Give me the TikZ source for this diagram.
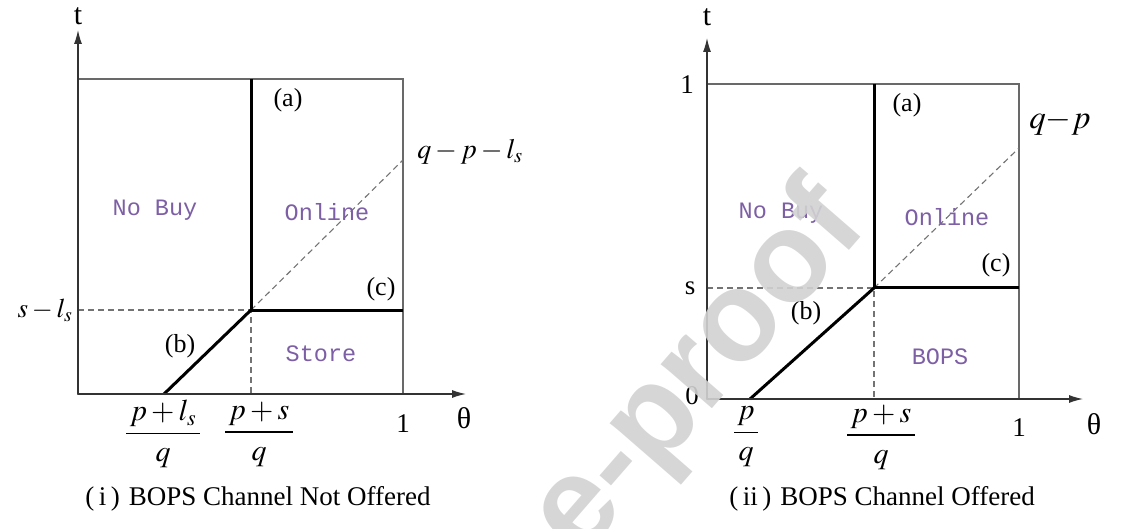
\documentclass[tikz,border=0pt]{standalone}
\usepackage{amsmath}
\usepackage{mathptmx}
\usepackage{fontspec}
\setmainfont{Liberation Serif}
\newfontfamily\regionfont{Liberation Mono}
\newfontfamily\markfont{Liberation Sans}
\usetikzlibrary{arrows.meta,positioning}
\definecolor{regcol}{RGB}{125,95,165}
\definecolor{framecol}{RGB}{105,105,105}
\definecolor{dashcol}{RGB}{115,115,115}
\definecolor{markcol}{RGB}{210,210,210}
\newcommand{\fs}[1]{\fontsize{#1}{#1}\selectfont}

\begin{document}
\begin{tikzpicture}[x=1pt,y=-1pt,>={Latex[length=14pt,width=8pt]},
  axis/.style={draw=black!80,line width=1.2pt,->},
  frame/.style={draw=framecol,line width=1.2pt},
  bound/.style={draw=black,line width=3pt},
  guide/.style={draw=dashcol,line width=1.1pt,dash pattern=on 6pt off 4pt},
  region/.style={regcol,font=\regionfont\fs{23.5}},
  tag/.style={font=\fs{26}},
  tick/.style={font=\fs{27}},
  varlab/.style={font=\fs{30}},
  frac/.style={font=\fs{30}},
  caption/.style={font=\fs{27}}]
  \useasboundingbox (0,0) rectangle (1124,529);
  % ---- (i) BOPS channel not offered
  \coordinate (Lo) at (78,394);   \coordinate (Ltop) at (78,30);
  \coordinate (Lend) at (466,394); \coordinate (Ltr) at (403,79);
  \coordinate (Lk) at (251,310);  \coordinate (Lka) at (251,79);
  \coordinate (Lkc) at (403,310); \coordinate (Lkb) at (164,394);
  \coordinate (Ldq) at (403,160); \coordinate (Lsy) at (78,310);
  \coordinate (Lpx) at (251,394);
  \draw[frame] (Lo) rectangle (Ltr);
  \draw[guide] (Lsy) -- (Lk) -- (Lpx);
  \draw[guide] (Lk) -- (Ldq);
  \draw[bound] (Lka) -- (Lk) -- (Lkc);
  \draw[bound] (Lk) -- (Lkb);
  \draw[axis] (Lo) -- (Ltop);
  \draw[axis] (Lo) -- (Lend);
  \node[varlab] (Lt) at (78,16) {t};
  \node[varlab] (Lth) at (464,418) {θ};
  \node[tick] (Lone) at (403,424) {1};
  \node[tag] (La) at (288,100) {(a)};
  \node[tag] (Lb) at (180,346) {(b)};
  \node[tag] (Lc) at (381,289) {(c)};
  \node[region] (Lnb) at (155,210) {No Buy};
  \node[region] (Lon) at (327,212) {Online};
  \node[region] (Lst) at (321,354) {Store};
  \node[font=\fs{28}] (Lqp) at (470,152) {$q-p-l_s$};
  \node[font=\fs{27},anchor=east] (Lsl) at (76,310) {$s-l_s$};
  \node[frac] (Lf1) at (163,434) {$\dfrac{\,p+l_s\,}{q}$};
  \node[frac] (Lf2) at (259,434) {$\dfrac{\,p+s\,}{q}$};
  \node[caption] (Lcap) at (258,499) {(\,i\,)\,\,BOPS Channel Not Offered};
  % ---- (ii) BOPS channel offered
  \coordinate (Ro) at (707,399);  \coordinate (Rtop) at (707,38);
  \coordinate (Rend) at (1083,399); \coordinate (Rtr) at (1019,84);
  \coordinate (Rk) at (874,288);  \coordinate (Rka) at (874,84);
  \coordinate (Rkc) at (1019,288); \coordinate (Rkb) at (750,399);
  \coordinate (Rdq) at (1019,148); \coordinate (Rsy) at (707,288);
  \coordinate (Rpx) at (874,399);
  \draw[frame] (Ro) rectangle (Rtr);
  \draw[guide] (Rsy) -- (Rk) -- (Rpx);
  \draw[guide] (Rk) -- (Rdq);
  \draw[bound] (Rka) -- (Rk) -- (Rkc);
  \draw[bound] (Rk) -- (Rkb);
  \draw[axis] (Ro) -- (Rtop);
  \draw[axis] (Ro) -- (Rend);
  \node[varlab] (Rt) at (707,17) {t};
  \node[varlab] (Rth) at (1094,424) {θ};
  \node[tick] (Rone) at (1019,428) {1};
  \node[tick] (Rtone) at (687,85) {1};
  \node[tick] (Rs) at (690,288) {s};
  \node[tick] (Rzero) at (692,396) {0};
  \node[tag] (Ra) at (907,105) {(a)};
  \node[tag] (Rb) at (806,313) {(b)};
  \node[tag] (Rc) at (996,265) {(c)};
  \node[region] (Rnb) at (781,213) {No Buy};
  \node[region] (Ron) at (947,217) {Online};
  \node[region] (Rbo) at (940,357) {BOPS};
  \node[font=\fs{33}\boldmath] (Rqp) at (1060,122) {$q{-}p$};
  \node[frac] (Rf1) at (746,437) {$\dfrac{\,p\,}{q}$};
  \node[frac] (Rf2) at (881,437) {$\dfrac{\,p+s\,}{q}$};
  \node[caption] (Rcap) at (882,499) {(\,ii\,)\,\,BOPS Channel Offered};
  % watermark
  \node[markcol,opacity=0.9,rotate=49,font=\markfont\bfseries\fs{128}] (wm) at (700,372) {e-proof};
\end{tikzpicture}
\end{document}
